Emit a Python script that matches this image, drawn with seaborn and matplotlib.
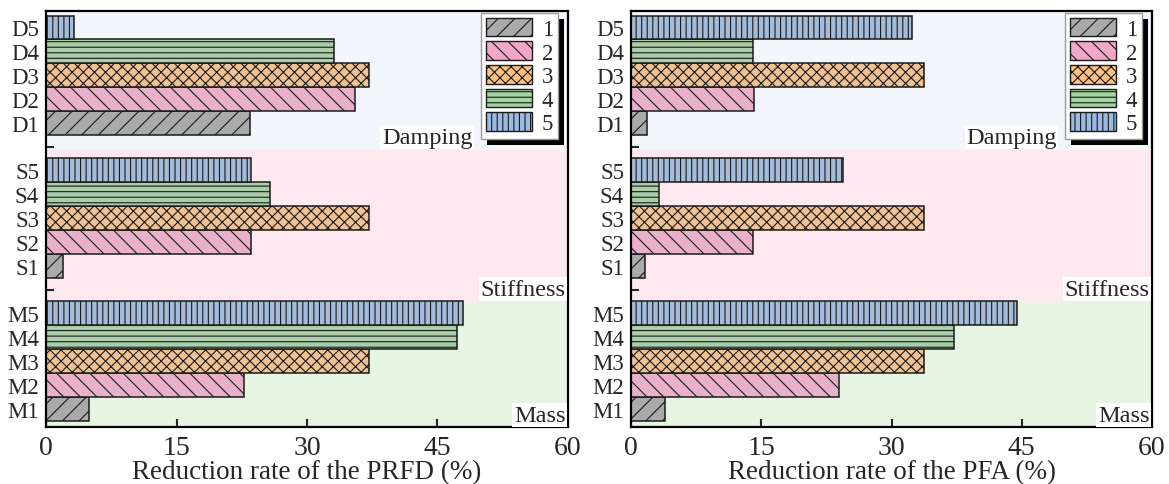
import numpy as np
import pandas as pd
import matplotlib
import matplotlib.pyplot as plt
import seaborn as sns
from matplotlib.patches import Patch, Rectangle
from matplotlib.transforms import IdentityTransform

## data
tick_labels = ["M1", "M2", "M3", "M4", "M5", "",
               "S1", "S2", "S3", "S4", "S5", "",
               "D1", "D2", "D3", "D4", "D5"]
series = ["1", "2", "3", "4", "5"]
prfd_mass = [4.9, 22.8, 37.1, 47.2, 47.9]
prfd_stiff = [1.9, 23.6, 37.1, 25.7, 23.6]
prfd_damp = [23.4, 35.5, 37.1, 33.1, 3.2]
pfa_mass = [3.9, 24.0, 33.7, 37.2, 44.5]
pfa_stiff = [1.6, 14.0, 33.7, 3.2, 24.4]
pfa_damp = [1.9, 14.2, 33.7, 14.0, 32.4]

colors = ["#aaaaaa", "#f2a7c9", "#fec184", "#a3d4a2", "#9bbbe3"]
hatches = ["//", "\\\\", "xxx", "---", "|||"]

sns.set_theme(style="ticks")
plt.rcParams["font.family"] = ["Liberation Serif", "DejaVu Serif"]
plt.rcParams["hatch.linewidth"] = 0.8
plt.rcParams["axes.linewidth"] = 1.6


def make_df(mass, stiff, damp):
    pos, val, ser = [], [], []
    for k, grp in enumerate([mass, stiff, damp]):
        for i, v in enumerate(grp):
            pos.append(k * 6 + i)
            val.append(v)
            ser.append(series[i])
    return pd.DataFrame({"pos": pos, "val": val, "series": ser})


fig = plt.figure(figsize=(11.69, 4.85), dpi=100)
ax1 = fig.add_axes([46 / 1169, 1 - 428 / 485, 522 / 1169, 416 / 485])
ax2 = fig.add_axes([631 / 1169, 1 - 428 / 485, 521 / 1169, 416 / 485])

panels = [(ax1, make_df(prfd_mass, prfd_stiff, prfd_damp), "Reduction rate of the PRFD (%)"),
          (ax2, make_df(pfa_mass, pfa_stiff, pfa_damp), "Reduction rate of the PFA (%)")]

ylo, yhi = -0.77, 16.69
legs = []
for ax, df, xlab in panels:
    ax.axhspan(ylo, 4.5, color="#e6f6e3", zorder=0, lw=0)
    ax.axhspan(4.5, 10.86, color="#fde9ef", zorder=0, lw=0)
    ax.axhspan(10.86, yhi, color="#f2f6fb", zorder=0, lw=0)

    sns.barplot(data=df, x="val", y="pos", hue="series", hue_order=series,
                palette=colors, orient="h", native_scale=True, dodge=False,
                width=1.0, legend=False, ax=ax, edgecolor="#1a1a1a",
                linewidth=1.1, zorder=2)
    for cont, h in zip(ax.containers, hatches):
        for bar in cont:
            bar.set_hatch(h)

    ax.set_xlim(0, 60)
    ax.set_ylim(ylo, yhi)
    ax.set_xticks([0, 15, 30, 45, 60])
    ax.set_yticks(range(17))
    ax.set_yticklabels(tick_labels)
    ax.set_ylabel("")
    ax.set_xlabel(xlab, fontsize=19.5, labelpad=-1)
    ax.tick_params(axis="x", direction="in", length=6, width=1.5, labelsize=20, pad=6)
    ax.tick_params(axis="y", direction="in", length=6, width=1.5, labelsize=16.5, pad=5)
    for s in ax.spines.values():
        s.set_visible(True)
        s.set_color("black")

    tb = dict(facecolor="white", edgecolor="none", pad=1)
    ax.text(59.7, -0.72, "Mass", ha="right", va="bottom", fontsize=17.5, bbox=tb, zorder=3)
    ax.text(59.7, 4.58, "Stiffness", ha="right", va="bottom", fontsize=17.5, bbox=tb, zorder=3)
    ax.text(49.0, 10.94, "Damping", ha="right", va="bottom", fontsize=17.5, bbox=tb, zorder=3)

    handles = [Patch(facecolor=c, edgecolor="#1a1a1a", hatch=h, label=l)
               for c, h, l in zip(colors, hatches, series)]
    leg = ax.legend(handles=handles, loc="upper right",
                    bbox_to_anchor=(1 - 10 / 522, 1 - 2 / 416), borderaxespad=0,
                    fontsize=16.5, fancybox=False, framealpha=1, edgecolor="#999999",
                    handlelength=2.0, handleheight=0.88, labelspacing=0.06,
                    handletextpad=0.45, borderpad=0.2)
    leg.get_frame().set_linewidth(1.0)
    legs.append((ax, leg))

fig.canvas.draw()
for ax, leg in legs:
    bb = leg.get_window_extent()
    sh = Rectangle((bb.x0 + 6, bb.y0 - 6), bb.width, bb.height,
                   transform=IdentityTransform(), facecolor="black",
                   edgecolor="none", zorder=4.9)
    sh.set_clip_on(False)
    ax.add_artist(sh)

fig.savefig("out.png", dpi=100)
